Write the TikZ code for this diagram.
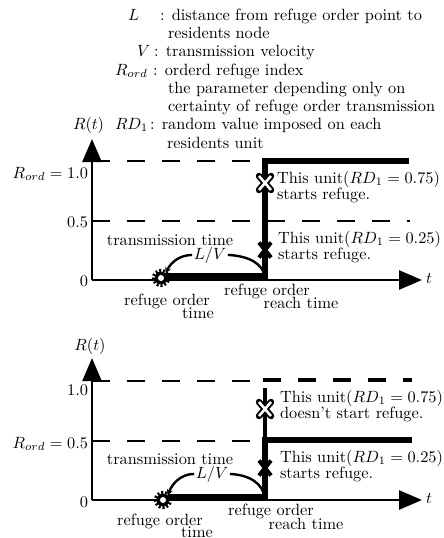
\documentclass[tikz,border=0pt]{standalone}
\usetikzlibrary{arrows.meta,shapes.misc}
\begin{document}
\begin{tikzpicture}[x=1pt,y=-1pt,
  every node/.style={inner sep=0pt, outer sep=0pt},
  txt/.style={scale=1.63, font=\fontsize{10}{11}\selectfont},
  axisline/.style={line width=2.6pt, -{Triangle[length=23pt,width=19pt]}},
  stepline/.style={line width=5.5pt, line join=miter},
  dashline/.style={line width=2.8pt, dash pattern=on 18pt off 17pt},
  curveline/.style={line width=2.4pt},
  gearnode/.style={circle, fill=black, minimum size=13pt},
  whitex/.style={cross out, draw=black, line width=6.5pt, line cap=round, minimum width=12pt, minimum height=14pt},
  whitexin/.style={cross out, draw=white, line width=2.6pt, minimum width=12pt, minimum height=14pt},
  blackx/.style={cross out, draw=black, line width=4pt, minimum width=12pt, minimum height=15pt},
  lab/.style={txt, anchor=base},
  labw/.style={txt, anchor=base west},
  labe/.style={txt, anchor=base east},
]
\useasboundingbox (0,0) rectangle (444,538);

% ---------------- header ----------------
\node[labw] (hL) at (128,20) {$L$};
\node[labw] (hLt) at (160,20) {: distance from refuge order point to};
\node[labw] (hLt2) at (168,38.5) {residents node};
\node[labw] (hV) at (137,56.5) {$V$};
\node[labw] (hVt) at (154,56.5) {: transmission velocity};
\node[labw] (hR) at (115,75) {$R_{ord}$};
\node[labw] (hRt) at (153,75) {: orderd refuge index};
\node[labw] (hRt2) at (168,93) {the parameter depending only on};
\node[labw] (hRt3) at (168,111) {certainty of refuge order transmission};
\node[labw] (hRD) at (115,129.5) {$RD_1$};
\node[labw] (hRDt) at (150,129.5) {: random value imposed on each};
\node[labw] (hRDt2) at (167,148) {residents unit};

% ---------------- top plot ----------------
\coordinate (o1) at (92,280);
\coordinate (ytop1) at (92,139);
\coordinate (xend1) at (422,280);
\node[labw] (Rt1) at (73,129.5) {$R(t)$};
\node[labw] (t1) at (426,283) {$t$};
\node[labe] (y10a) at (88,178) {$R_{ord} = 1.0$};
\node[labe] (y05a) at (88,227) {0.5};
\node[labe] (y00a) at (88,286) {0};

\draw[dashline] (92,161) -- (262,161);
\draw[dashline] (92,221) -- (410,221);

\coordinate (s1a) at (166,276);
\coordinate (s1b) at (265,276);
\coordinate (s1c) at (265,161);
\coordinate (s1d) at (409,161);
\draw[stepline] (s1a) -- (s1b) -- (s1c) -- (s1d);

\draw[axisline] (o1) -- (ytop1);
\draw[axisline] (o1) -- (xend1);

\node[gearnode] (gear1) at (161,278) {};
\draw[line width=3pt, dash pattern=on 2pt off 1.9pt] (gear1.center) circle (7.6pt);
\fill[white] (gear1.center) circle (3pt);

\node[lab] (tt1) at (170,245) {transmission time};
\node[lab, inner sep=1pt] (lv1) at (210,259) {$L/V$};
\draw[curveline, -{Stealth[length=6pt,width=6pt]}] (lv1.west) .. controls (180,255) and (171,262) .. (gear1.north east);
\draw[curveline] (lv1.east) .. controls (250,256) and (262,264) .. (s1b);

\node[whitex] (wx1) at (265,183) {};
\node[whitexin] at (wx1) {};
\node[blackx] (bx1) at (265,250) {};

\node[labw] (u75a) at (277,183) {This unit($RD_1 = 0.75$)};
\node[labw] (u75b) at (277,199) {starts refuge.};
\node[labw] (u25a) at (278,243) {This unit($RD_1 = 0.25$)};
\node[labw] (u25b) at (278,259) {starts refuge.};

\node[lab] (ro1) at (167,305) {refuge order};
\node[lab] (ro1t) at (198,318) {time};
\node[lab] (rr1) at (267,295) {refuge order};
\node[lab] (rr1t) at (301,308) {reach time};

% ---------------- bottom plot ----------------
\coordinate (o2) at (92,500);
\coordinate (ytop2) at (92,358);
\coordinate (xend2) at (422,500);
\node[lab] (Rt2) at (90,350) {$R(t)$};
\node[labw] (t2) at (426,503) {$t$};
\node[labe] (y10b) at (88,395) {1.0};
\node[labe] (y05b) at (88,448) {$R_{ord} = 0.5$};
\node[labe] (y00b) at (88,507) {0};

\draw[dashline] (92,381) -- (255,381);
\draw[line width=4.5pt, dash pattern=on 18pt off 17pt] (263,380) -- (412,380);
\draw[dashline] (92,441) -- (262,441);

\coordinate (s2a) at (168,497);
\coordinate (s2b) at (265,497);
\coordinate (s2c) at (265,440);
\coordinate (s2d) at (412,440);
\coordinate (s2top) at (265,388);
\draw[line width=4pt] (s2top) -- (s2c);
\draw[stepline] (s2a) -- (s2b) -- (s2c) -- (s2d);

\draw[axisline] (o2) -- (ytop2);
\draw[axisline] (o2) -- (xend2);

\node[gearnode] (gear2) at (163,500) {};
\draw[line width=3pt, dash pattern=on 2pt off 1.9pt] (gear2.center) circle (7.6pt);
\fill[white] (gear2.center) circle (3pt);

\node[lab] (tt2) at (170,464) {transmission time};
\node[lab, inner sep=1pt] (lv2) at (212,478) {$L/V$};
\draw[curveline, -{Stealth[length=6pt,width=6pt]}] (lv2.west) .. controls (182,474) and (173,482) .. (gear2.north east);
\draw[curveline] (lv2.east) .. controls (251,475) and (262,484) .. (s2b);

\node[whitex] (wx2) at (265,409) {};
\node[whitexin] at (wx2) {};
\node[blackx] (bx2) at (265,468) {};

\node[labw] (v75a) at (280,402) {This unit($RD_1 = 0.75$)};
\node[labw] (v75b) at (280,418) {doesn't start refuge.};
\node[labw] (v25a) at (280,462) {This unit($RD_1 = 0.25$)};
\node[labw] (v25b) at (280,478) {starts refuge.};

\node[lab] (ro2) at (160,525) {refuge order};
\node[lab] (ro2t) at (197,537) {time};
\node[lab] (rr2) at (271,515) {refuge order};
\node[lab] (rr2t) at (306,529) {reach time};
\end{tikzpicture}
\end{document}
